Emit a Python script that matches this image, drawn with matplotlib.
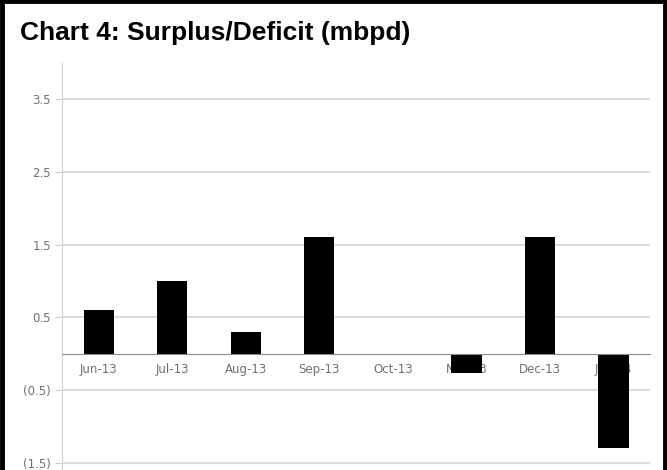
import matplotlib.pyplot as plt
import numpy as np
from matplotlib.lines import Line2D

months = ['Jun-13', 'Jul-13', 'Aug-13', 'Sep-13', 'Oct-13', 'Nov-13', 'Dec-13', 'Jan-14']
balance = [0.6, 1.0, 0.3, 1.6, 0.0, -0.27, 1.6, -1.3]
yticks = [-1.5, -0.5, 0.5, 1.5, 2.5, 3.5]
ylabels = ['(1.5)', '(0.5)', '0.5', '1.5', '2.5', '3.5']

fig = plt.figure(figsize=(6.67, 4.70), dpi=100)
ax = fig.add_axes([0.093, 0.0, 0.882, 0.866])

x = np.arange(len(months))
ax.bar(x, balance, width=0.41, color='black', zorder=2)

ax.set_xlim(-0.5, len(months) - 0.5)
ax.set_ylim(-1.6, 4.0)
ax.set_axisbelow(True)

ax.set_yticks(yticks)
ax.set_yticklabels(ylabels)
ax.set_xticks(x)
ax.set_xticklabels(months)
ax.yaxis.grid(True, color='#d4d4d4', linewidth=1.2)

for s in ['top', 'right']:
    ax.spines[s].set_visible(False)
ax.spines['left'].set_color('#cfcfcf')
ax.spines['bottom'].set_position(('data', 0))
ax.spines['bottom'].set_color('#8c8c8c')

ax.tick_params(axis='y', length=5, color='#cfcfcf', labelsize=8.5, labelcolor='#707070', pad=3)
ax.tick_params(axis='x', length=0, labelsize=8.5, labelcolor='#707070', pad=7)
for t in ax.get_xticklabels() + ax.get_yticklabels():
    t.set_fontfamily('Liberation Sans Narrow')

fig.text(0.03, 0.915, 'Chart 4: Surplus/Deficit (mbpd)', fontsize=19, fontweight='bold',
         family='Liberation Sans', color='black')

# frame around the picture (no bottom edge, it is cut off)
for xs, ys in [([0.003, 0.003], [0, 1]), ([0.997, 0.997], [0, 1]), ([0, 1], [0.997, 0.997])]:
    fig.add_artist(Line2D(xs, ys, color='black', linewidth=3.5, transform=fig.transFigure))

fig.savefig('out.png', dpi=100)
